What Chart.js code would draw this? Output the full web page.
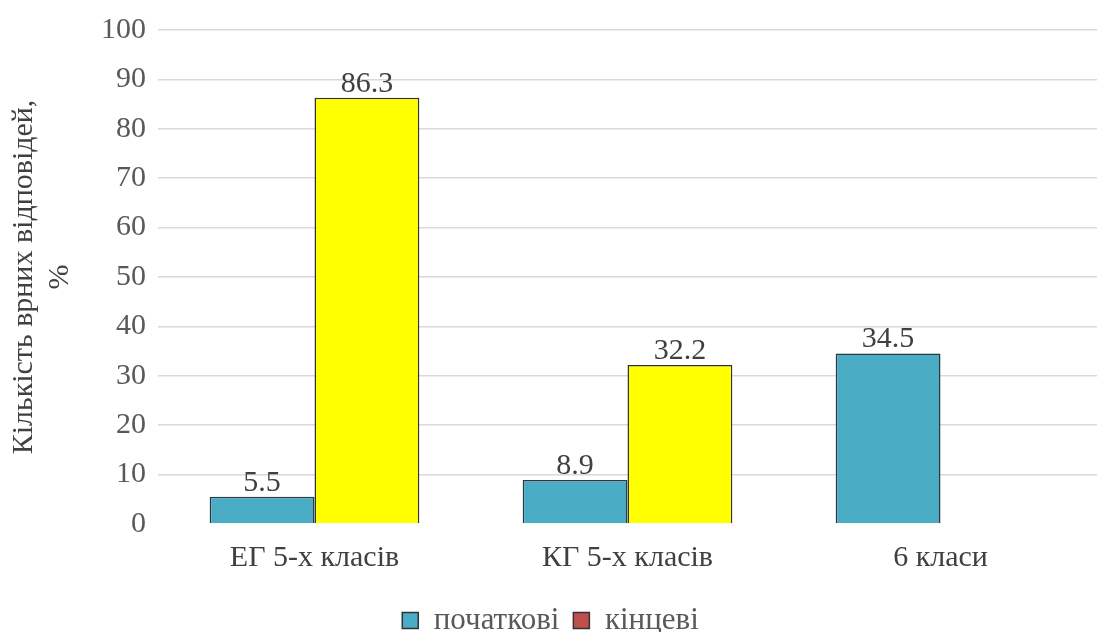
<!DOCTYPE html>
<html>
<head>
<meta charset="utf-8">
<script src="https://cdn.jsdelivr.net/npm/chart.js@4/dist/chart.umd.min.js"></script>
<style>
  html, body { margin: 0; padding: 0; background: #fff; }
  #wrap { width: 1097px; height: 632px; }
</style>
</head>
<body>
<div id="wrap"><canvas id="chart"></canvas></div>
<script>
const categories = ['ЕГ 5-х класів', 'КГ 5-х класів', '6 класи'];
const initialValues = [5.5, 8.9, 34.5];
const finalValues = [86.3, 32.2, null];
const seriesNames = ['початкові', 'кінцеві'];
const legendColors = ['#4BACC6', '#C0504D'];
const yTicks = [0, 10, 20, 30, 40, 50, 60, 70, 80, 90, 100];

const serif = "'Liberation Serif', 'Times New Roman', serif";

// value labels above each bar
const valueLabels = {
  id: 'valueLabels',
  afterDatasetsDraw(chart) {
    const ctx = chart.ctx;
    ctx.save();
    ctx.font = '30px ' + serif;
    ctx.fillStyle = '#404040';
    ctx.textAlign = 'center';
    ctx.textBaseline = 'bottom';
    chart.data.datasets.forEach((ds, i) => {
      chart.getDatasetMeta(i).data.forEach((bar, j) => {
        const v = ds.data[j];
        if (v === null || v === undefined) return;
        ctx.fillText(v.toString(), bar.x, bar.y + 1);
      });
    });
    ctx.restore();
  }
};

new Chart(document.getElementById('chart'), {
  type: 'bar',
  data: {
    labels: categories,
    datasets: [{
      label: seriesNames[0],
      data: initialValues,
      backgroundColor: '#4BACC6',
      borderColor: '#2b3a3f',
      borderWidth: 1.5,
      categoryPercentage: 0.67,
      barPercentage: 1
    }, {
      label: seriesNames[1],
      data: finalValues,
      backgroundColor: '#FFFF00',
      borderColor: '#333333',
      borderWidth: 1.5,
      categoryPercentage: 0.67,
      barPercentage: 1
    }]
  },
  options: {
    responsive: true,
    maintainAspectRatio: false,
    animation: false,
    layout: { padding: { top: 18, right: 0, left: 4, bottom: -14 } },
    plugins: {
      tooltip: { enabled: false },
      legend: {
        position: 'bottom',
        labels: {
          font: { family: serif, size: 31 },
          color: '#595959',
          boxWidth: 16,
          boxHeight: 16,
          padding: 14,
          generateLabels(chart) {
            return chart.data.datasets.map((ds, i) => ({
              text: ds.label,
              fillStyle: legendColors[i],
              strokeStyle: '#333333',
              lineWidth: 1.5,
              datasetIndex: i,
              fontColor: '#595959'
            }));
          }
        }
      }
    },
    scales: {
      x: {
        grid: { display: false },
        border: { display: false },
        ticks: {
          font: { family: serif, size: 30 },
          color: '#404040',
          padding: 8
        },
        afterFit(axis) { axis.height = 67; }
      },
      y: {
        min: 0,
        max: 100,
        afterBuildTicks(axis) {
          axis.ticks = yTicks.map(v => ({ value: v }));
        },
        afterFit(axis) { axis.width = 154; },
        grid: {
          color: c => c.tick.value === 0 ? 'rgba(0,0,0,0)' : '#d9d9d9',
          lineWidth: 1.5,
          drawTicks: false
        },
        border: { display: false },
        ticks: {
          font: { family: serif, size: 30 },
          color: '#595959',
          padding: 12
        },
        title: {
          display: true,
          text: ['Кількість врних відповідей,', '%'],
          font: { family: serif, size: 30 },
          color: '#404040',
          padding: { top: 2, bottom: 6 }
        }
      }
    }
  },
  plugins: [valueLabels]
});
</script>
</body>
</html>
